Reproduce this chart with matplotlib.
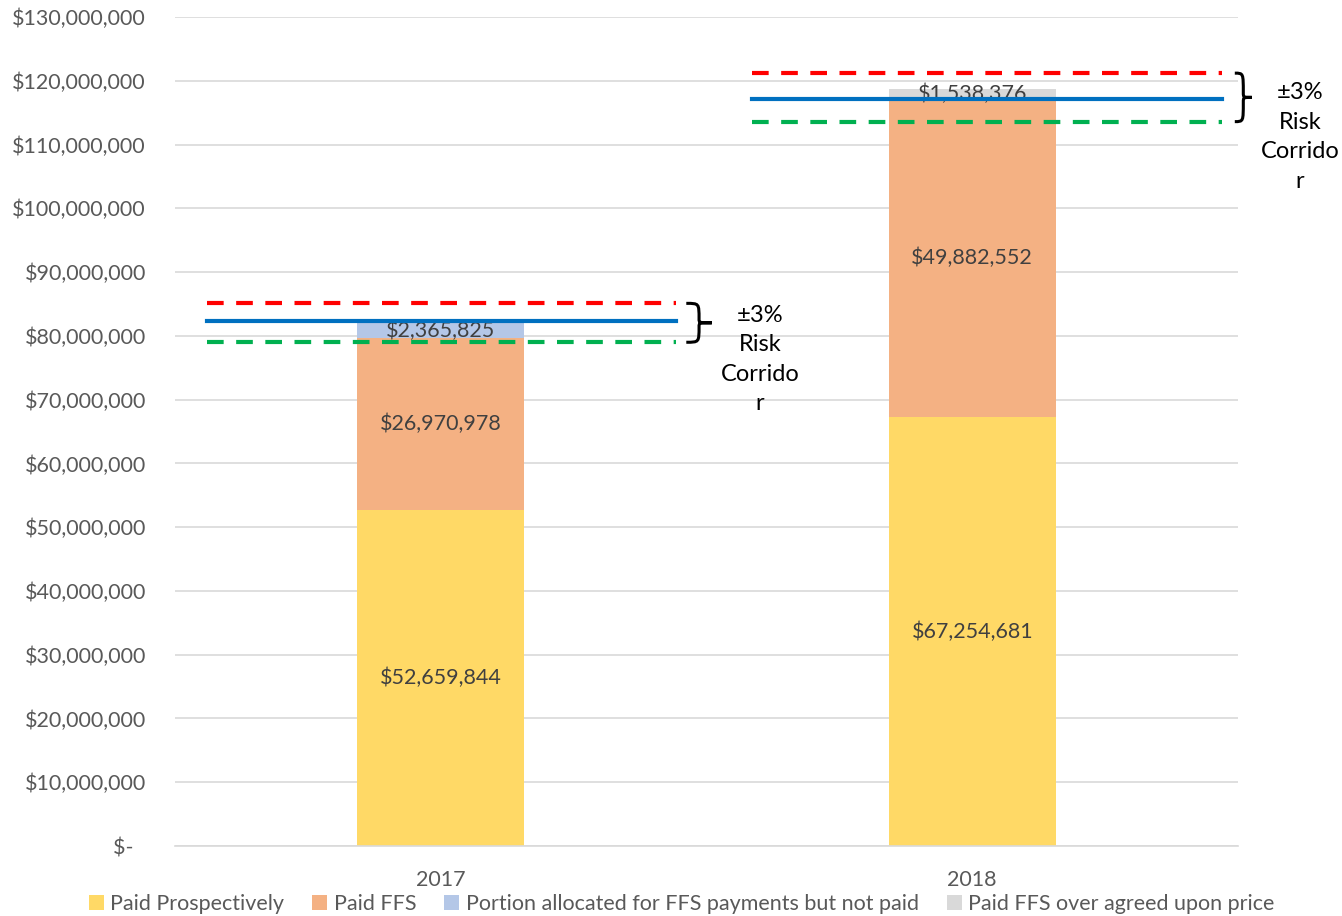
#!/usr/bin/env python3
"""Stacked payments per year with +/-3% risk corridor lines."""

import matplotlib
matplotlib.use("Agg")
import numpy as np
from matplotlib import pyplot as plt
from matplotlib.path import Path
from matplotlib.patches import PathPatch

years = ["2017", "2018"]
paid_prospectively = [52659844, 67254681]
paid_ffs = [26970978, 49882552]
allocated_not_paid = [2365825, 0]
ffs_over_price = [0, 1538376]

# corridor lines: (upper, target, lower)
corridor_upper = [85100000, 121200000]
corridor_target = [82300000, 117200000]
corridor_lower = [79000000, 113600000]

series = [
    ("Paid Prospectively", paid_prospectively, "#FFD966"),
    ("Paid FFS", paid_ffs, "#F4B183"),
    ("Portion allocated for FFS payments but not paid", allocated_not_paid, "#B4C7E7"),
    ("Paid FFS over agreed upon price", ffs_over_price, "#D9D9D9"),
]

FONT = ["Lato", "DejaVu Sans"]
plt.rcParams["font.family"] = FONT
TXT = "#595959"
FS = 15.5


def money(v, _pos=None):
    if v == 0:
        return "$-\u2007"
    return f"${v:,.0f}"


def brace(ax, x, y0, y1, w):
    """Right-facing curly brace from y0 to y1 at x (data coords)."""
    ym = (y0 + y1) / 2
    h = w * 0.5
    verts = [
        (x, y1), (x + h, y1), (x + h, y1), (x + h, ym + (y1 - ym) * 0.2),
        (x + h, ym), (x + h, ym), (x + w, ym),
        (x + h, ym), (x + h, ym), (x + h, ym - (ym - y0) * 0.2),
        (x + h, y0), (x + h, y0), (x, y0),
    ]
    codes = [Path.MOVETO, Path.CURVE4, Path.CURVE4, Path.LINETO,
             Path.CURVE4, Path.CURVE4, Path.CURVE4,
             Path.CURVE4, Path.CURVE4, Path.CURVE4,
             Path.CURVE4, Path.CURVE4, Path.CURVE4]
    ax.add_patch(PathPatch(Path(verts, codes), fill=False, lw=2.2,
                           ec="black", clip_on=False, zorder=5))


fig = plt.figure(figsize=(13.42, 9.16), dpi=100)
ax = fig.add_axes([0.1304, 0.0764, 0.7921, 0.905])

x = np.arange(len(years))
width = 0.314
bottom = np.zeros(len(years))
handles = []
for name, vals, color in series:
    vals = np.asarray(vals, dtype=float)
    b = ax.bar(x, vals, width, bottom=bottom, color=color, label=name, zorder=2)
    handles.append(b)
    for xi, v, b0 in zip(x, vals, bottom):
        if v > 0:
            ax.text(xi, b0 + v / 2, f"${v:,.0f}", ha="center", va="center",
                    fontsize=FS, color="#404040", zorder=3)
    bottom += vals

# corridor lines and brace annotations
x0 = [-0.44, 0.586]
x1 = [0.443, 1.47]
brace_x = [0.462, 1.494]
brace_w = [0.048, 0.032]
label_x = [0.601, 1.617]
for i in range(len(years)):
    ax.plot([x0[i], x1[i]], [corridor_upper[i]] * 2, color="#FF0000", lw=3,
            dashes=(4, 3), zorder=4, clip_on=False)
    ax.plot([x0[i], x1[i]], [corridor_target[i]] * 2, color="#0070C0", lw=3,
            zorder=4, clip_on=False)
    ax.plot([x0[i], x1[i]], [corridor_lower[i]] * 2, color="#00B050", lw=3,
            dashes=(4, 3), zorder=4, clip_on=False)
    brace(ax, brace_x[i], corridor_lower[i], corridor_upper[i], brace_w[i])
    ax.text(label_x[i], corridor_target[i] + 2600000, "\u00b13%\nRisk\nCorrido\nr",
            ha="center", va="top", fontsize=17, linespacing=1.5,
            color="black", clip_on=False)

ax.set_xlim(-0.5, 1.5)
ax.set_ylim(0, 130000000)
ax.set_yticks(np.arange(0, 130000001, 10000000))
ax.yaxis.set_major_formatter(plt.FuncFormatter(money))
ax.set_xticks(x)
ax.set_xticklabels(years)
ax.tick_params(axis="both", length=0, labelsize=FS, labelcolor=TXT)
ax.tick_params(axis="y", pad=21)
ax.tick_params(axis="x", pad=17)
ax.grid(axis="y", color="#D9D9D9", lw=1.2, zorder=0)
ax.set_axisbelow(True)
for s in ("top", "right", "left"):
    ax.spines[s].set_visible(False)
ax.spines["bottom"].set_color("#D9D9D9")
ax.spines["bottom"].set_linewidth(1.2)

leg = fig.legend(handles=handles, loc="lower center", bbox_to_anchor=(0.508, -0.019),
                 ncol=4, frameon=False, fontsize=FS, handlelength=0.7,
                 handleheight=0.7, handletextpad=0.3, columnspacing=1.3)
for t in leg.get_texts():
    t.set_color(TXT)

fig.savefig("out.png", dpi=100)
